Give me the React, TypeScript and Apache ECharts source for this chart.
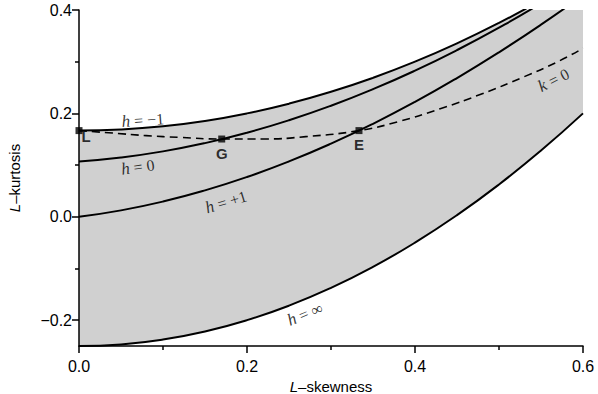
import React, { useEffect, useRef } from "react";
import * as echarts from "echarts";

const skewGrid = [0, 0.05, 0.1, 0.15, 0.2, 0.25, 0.3, 0.35, 0.4, 0.45, 0.5, 0.55, 0.6];
const kurtHMinus1 = [0.1667, 0.1688, 0.175, 0.1854, 0.2, 0.2188, 0.2417, 0.2688, 0.3, 0.3354, 0.375, 0.4188, 0.4667];
const kurtH0 = [0.107, 0.1147, 0.1265, 0.1425, 0.1626, 0.1867, 0.2148, 0.2468, 0.2827, 0.3224, 0.3658, 0.413, 0.465];
const kurtHPlus1 = [0, 0.0124, 0.0294, 0.051, 0.0769, 0.1071, 0.1415, 0.1799, 0.2222, 0.2684, 0.3182, 0.3716, 0.4286];
const kurtHInf = [-0.25, -0.2469, -0.2375, -0.2219, -0.2, -0.1719, -0.1375, -0.0969, -0.05, 0.0031, 0.0625, 0.1281, 0.2];

const kZeroSkew = [0, 0.04, 0.08, 0.12, 0.17, 0.22, 0.27, 0.3333, 0.38, 0.43, 0.48, 0.53, 0.57, 0.6];
const kZeroKurt = [0.1667, 0.162, 0.157, 0.1535, 0.1504, 0.1505, 0.155, 0.1667, 0.184, 0.209, 0.238, 0.271, 0.3, 0.326];

const pointNames = ["L", "G", "E"];
const pointSkew = [0, 0.1699, 0.3333];
const pointKurt = [0.1667, 0.1504, 0.1667];

const curveLabels = ["−1", "0", "+1", "∞"];
const curveLabelSkew = [0.076, 0.07, 0.175, 0.269];
const curveLabelKurt = [0.187, 0.0963, 0.0286, -0.188];
const curveLabelRot = [4, 8, 17, 22];

const kLabel = "0";
const kLabelSkew = 0.565;
const kLabelKurt = 0.2646;

const xMajorTicks = [0, 0.2, 0.4, 0.6];
const xMinorTicks = [0.1, 0.3, 0.5];
const yMajorTicks = [-0.2, 0, 0.2, 0.4];
const yMinorTicks = [-0.1, 0.1, 0.3];

const pair = (xs: number[], ys: number[]) => xs.map((x, i) => [x, ys[i]]);

const fmt = (v: number) => v.toFixed(1).replace("-", "−");

export default function App() {
  const ref = useRef<HTMLDivElement>(null);
  useEffect(() => {
    if (!ref.current) return;
    const chart = echarts.init(ref.current, undefined, { renderer: "svg" });
    const sansFont = "'Liberation Sans', Arial, sans-serif";
    const serifFont = "'Liberation Serif', 'Times New Roman', serif";
    const curveStyle = { color: "#000", width: 2 };
    const rich = {
      i: { fontFamily: serifFont, fontStyle: "italic" as const, fontSize: 17, color: "#000" },
      n: { fontFamily: serifFont, fontSize: 16, color: "#000" },
    };
    const textLabel = (formatter: string, rotate: number) => ({
      show: true,
      position: [0, 0],
      align: "center",
      verticalAlign: "middle",
      rotate,
      formatter,
      color: "#000",
      rich,
    });
    const nameStyle = {
      fontFamily: sansFont,
      fontSize: 15,
      color: "#000",
      rich: { i: { fontFamily: sansFont, fontStyle: "italic", fontSize: 15, color: "#000" } },
    };
    const bandPoints = [
      ...pair(skewGrid, kurtHMinus1),
      ...pair(skewGrid, kurtHInf).reverse(),
    ];
    const option: any = {
      animation: false,
      grid: { left: 79, right: 15, top: 10, bottom: 48, containLabel: false, outerBoundsMode: "none" },
      xAxis: [
        {
          type: "value",
          min: 0,
          max: 0.6,
          z: 10,
          splitLine: { show: false },
          axisLine: { show: true, onZero: false, lineStyle: { color: "#000", width: 1.5 } },
          axisTick: { show: true, customValues: xMajorTicks, length: 7, lineStyle: { color: "#000", width: 1.5 } },
          axisLabel: {
            customValues: xMajorTicks,
            formatter: fmt,
            color: "#000",
            fontFamily: sansFont,
            fontSize: 16,
            margin: 12,
          },
          name: "{i|L}–skewness",
          nameLocation: "middle",
          nameGap: 32,
          nameTextStyle: nameStyle,
        },
        {
          type: "value",
          min: 0,
          max: 0.6,
          z: 10,
          position: "bottom",
          splitLine: { show: false },
          axisLine: { show: false, onZero: false },
          axisTick: { show: true, customValues: xMinorTicks, length: 4, lineStyle: { color: "#000", width: 1.5 } },
          axisLabel: { show: false },
        },
      ],
      yAxis: [
        {
          type: "value",
          min: -0.25,
          max: 0.4,
          z: 10,
          splitLine: { show: false },
          axisLine: { show: true, onZero: false, lineStyle: { color: "#000", width: 1.5 } },
          axisTick: { show: true, customValues: yMajorTicks, length: 7, lineStyle: { color: "#000", width: 1.5 } },
          axisLabel: {
            customValues: yMajorTicks,
            formatter: fmt,
            color: "#000",
            fontFamily: sansFont,
            fontSize: 16,
            margin: 7,
          },
          name: "{i|L}–kurtosis",
          nameLocation: "middle",
          nameGap: 57,
          nameTextStyle: nameStyle,
        },
        {
          type: "value",
          min: -0.25,
          max: 0.4,
          z: 10,
          position: "left",
          splitLine: { show: false },
          axisLine: { show: false, onZero: false },
          axisTick: { show: true, customValues: yMinorTicks, length: 4, lineStyle: { color: "#000", width: 1.5 } },
          axisLabel: { show: false },
        },
      ],
      series: [
        {
          type: "custom",
          data: [0],
          clip: true,
          silent: true,
          z: 1,
          renderItem: (_params: any, api: any) => ({
            type: "polygon",
            shape: { points: bandPoints.map((p) => api.coord(p)) },
            style: { fill: "#d0d0d0" },
          }),
        },
        ...[kurtHMinus1, kurtH0, kurtHPlus1, kurtHInf].map((ys) => ({
          type: "line",
          data: pair(skewGrid, ys),
          smooth: true,
          symbol: "none",
          lineStyle: curveStyle,
          clip: true,
          z: 3,
        })),
        {
          type: "line",
          data: pair(kZeroSkew, kZeroKurt),
          smooth: true,
          symbol: "none",
          lineStyle: { color: "#000", width: 1.6, type: [8, 5] },
          clip: true,
          z: 3,
        },
        {
          type: "scatter",
          data: pointNames.map((n, i) => ({
            value: [pointSkew[i], pointKurt[i]],
            name: n,
            label: {
              show: true,
              position: i === 0 ? [6, 2] : "bottom",
              distance: 3,
              formatter: n,
              fontFamily: sansFont,
              fontWeight: "bold",
              fontSize: 15,
              color: "#000",
            },
          })),
          symbol: "rect",
          symbolSize: 7,
          itemStyle: { color: "#000" },
          clip: false,
          z: 5,
        },
        {
          type: "scatter",
          data: curveLabels.map((t, i) => ({
            value: [curveLabelSkew[i], curveLabelKurt[i]],
            label: textLabel(`{i|h}{n| = ${t}}`, curveLabelRot[i]),
          })),
          symbolSize: 0,
          itemStyle: { color: "#000" },
          z: 6,
        },
        {
          type: "scatter",
          data: [
            {
              value: [kLabelSkew, kLabelKurt],
              label: textLabel(`{i|k}{n| = ${kLabel}}`, 27),
            },
          ],
          symbolSize: 0,
          itemStyle: { color: "#000" },
          z: 6,
        },
      ],
    };
    chart.setOption(option);
    return () => chart.dispose();
  }, []);
  return <div ref={ref} style={{ width: 598, height: 394, position: "absolute", left: 0, top: 0 }} />;
}
